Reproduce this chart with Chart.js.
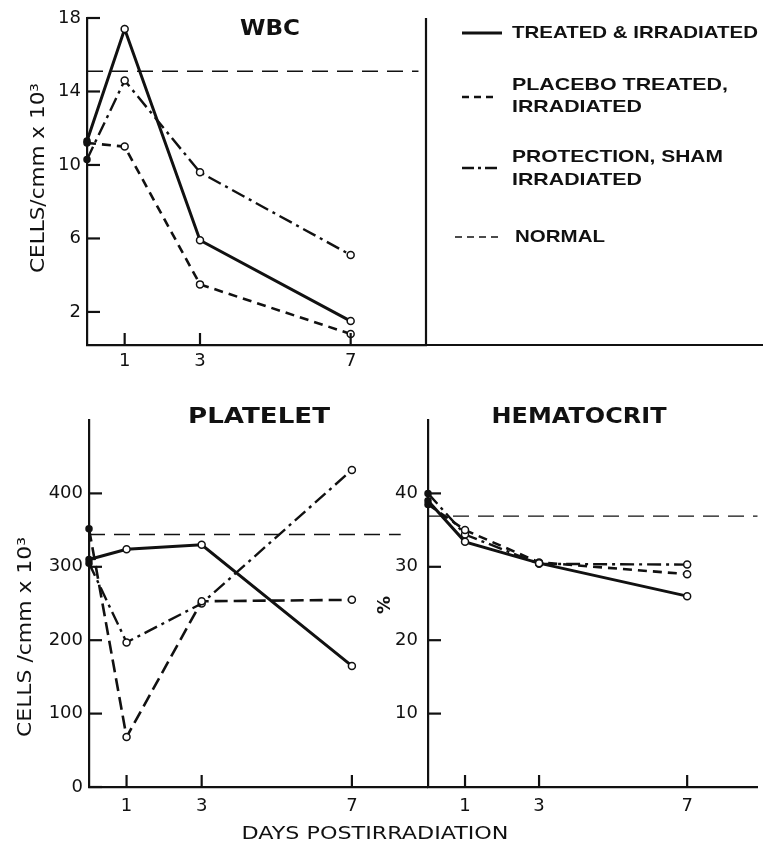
<!DOCTYPE html>
<html>
<head>
<meta charset="utf-8">
<script src="https://cdn.jsdelivr.net/npm/chart.js@4.4.0/dist/chart.umd.min.js"></script>
<style>
  html, body { margin: 0; padding: 0; background: #fff; }
  #wrap { position: relative; width: 763px; height: 849px; background: #fff; overflow: hidden; }
  #wrap canvas { position: absolute; left: 0; }
</style>
</head>
<body>
<div id="wrap">
  <canvas id="wbc" width="763" height="380" style="top:0"></canvas>
  <canvas id="platelet" width="763" height="469" style="top:380px"></canvas>
  <canvas id="hematocrit" width="763" height="469" style="top:380px"></canvas>
</div>
<script>
// days after irradiation
const days = [0, 1, 3, 7];
const dayTicks = [1, 3, 7];

const legendNames = [
    ['TREATED & IRRADIATED'],
    ['PLACEBO TREATED,', 'IRRADIATED'],
    ['PROTECTION, SHAM', 'IRRADIATED'],
    ['NORMAL']
];

// WBC, cells/cmm x 10^3
const wbcTicks = [2, 6, 10, 14, 18];
const wbcTreated = [11.3, 17.4, 5.9, 1.5];
const wbcPlacebo = [11.2, 11.0, 3.5, 0.8];
const wbcProtection = [10.3, 14.6, 9.6, 5.1];
const wbcNormal = 15.1;

// platelets, cells/cmm x 10^3
const plateletTicks = [0, 100, 200, 300, 400];
const plateletTreated = [310, 324, 330, 165];
const plateletPlacebo = [352, 68, 253, 255];
const plateletProtection = [305, 197, 250, 432];
const plateletNormal = 344;

// hematocrit, %
const hctTicks = [10, 20, 30, 40];
const hctTreated = [39.0, 33.4, 30.5, 26.0];
const hctPlacebo = [38.5, 35.0, 30.6, 29.0];
const hctProtection = [40.0, 34.4, 30.4, 30.3];
const hctNormal = 36.9;

const ink = '#111';
const styles = {
    treated: { dash: [], width: 3 },
    placebo: { dash: [9, 6], width: 2.6 },
    protection: { dash: [14, 5, 3, 5], width: 2.4 },
    normal: { dash: [16, 9], width: 1.4 }
};

Chart.defaults.color = ink;
Chart.defaults.font.family = '"DejaVu Sans", sans-serif';

function series(values, style) {
    return {
        data: days.map((d, i) => ({ x: d, y: values[i] })),
        borderColor: ink,
        borderWidth: style.width,
        borderDash: style.dash,
        pointRadius: [3, 3.5, 3.5, 3.5],
        pointBackgroundColor: [ink, '#fff', '#fff', '#fff'],
        pointBorderColor: ink,
        pointBorderWidth: 1.5,
        tension: 0,
        clip: 8
    };
}

function normalLine(value, toDay) {
    return {
        data: [{ x: 0, y: value }, { x: toDay, y: value }],
        borderColor: ink,
        borderWidth: styles.normal.width,
        borderDash: styles.normal.dash,
        pointRadius: 0,
        clip: 8
    };
}

function drawText(ctx, t) {
    ctx.save();
    ctx.font = t.font;
    ctx.fillStyle = ink;
    ctx.textBaseline = 'middle';
    ctx.textAlign = t.align || 'center';
    ctx.translate(t.x, t.y);
    if (t.rotate) ctx.rotate(t.rotate);
    if (t.width) {
        const w = ctx.measureText(t.text).width;
        ctx.scale(t.width / w, 1);
    }
    ctx.fillText(t.text, 0, 0);
    ctx.restore();
}

function strokeLine(ctx, x1, y1, x2, y2, width, dash) {
    ctx.save();
    ctx.strokeStyle = ink;
    ctx.lineWidth = width;
    ctx.setLineDash(dash || []);
    ctx.beginPath();
    ctx.moveTo(x1, y1);
    ctx.lineTo(x2, y2);
    ctx.stroke();
    ctx.restore();
}

const panelDecor = {
    id: 'panelDecor',
    afterDraw(chart, args, opts) {
        const ctx = chart.ctx;
        const area = chart.chartArea;
        const xs = chart.scales.x, ys = chart.scales.y;
        // inward tick marks
        opts.yTicks.forEach(v => {
            const py = ys.getPixelForValue(v);
            strokeLine(ctx, area.left, py, area.left + 13, py, 2.2);
        });
        dayTicks.forEach(d => {
            const px = xs.getPixelForValue(d);
            strokeLine(ctx, px, area.bottom, px, area.bottom - 12, 2.2);
        });
        if (opts.extendAxis) {
            strokeLine(ctx, area.right, area.bottom, chart.width, area.bottom, 2.2);
        }
        if (opts.rightEdge) {
            strokeLine(ctx, area.right, area.top, area.right, area.bottom, 2.2);
        }
        (opts.texts || []).forEach(t => drawText(ctx, t));
        (opts.legend || []).forEach((item, i) => {
            strokeLine(ctx, item.x1, item.y, item.x2, item.y, item.lw, item.dash);
            legendNames[i].forEach((line, j) => {
                drawText(ctx, {
                    text: line, x: item.tx, y: item.ty[j], width: item.tw[j],
                    align: 'left', font: 'bold 17px "Liberation Sans", sans-serif'
                });
            });
        });
    }
};

function makeChart(id, c) {
    return new Chart(document.getElementById(id), {
        type: 'line',
        data: { datasets: c.datasets },
        plugins: [panelDecor],
        options: {
            responsive: false,
            animation: false,
            layout: { padding: c.padding },
            plugins: {
                legend: { display: false },
                tooltip: { enabled: false },
                panelDecor: c.decor
            },
            scales: {
                x: {
                    type: 'linear',
                    min: 0,
                    max: c.xMax,
                    afterBuildTicks: s => { s.ticks = dayTicks.map(v => ({ value: v })); },
                    afterFit: s => { s.height = c.xHeight; },
                    grid: { display: false, drawTicks: false },
                    border: { display: true, color: ink, width: 2.2 },
                    ticks: { padding: c.xPad, font: { size: 18 }, maxRotation: 0 }
                },
                y: {
                    min: c.yMin,
                    max: c.yMax,
                    afterBuildTicks: s => { s.ticks = c.yTicks.map(v => ({ value: v })); },
                    afterFit: s => { s.width = c.yWidth; },
                    grid: { display: false, drawTicks: false },
                    border: { display: true, color: ink, width: 2.2 },
                    ticks: { padding: c.yPad, font: { size: 18 } }
                }
            }
        }
    });
}

makeChart('wbc', {
    datasets: [
        series(wbcTreated, styles.treated),
        series(wbcPlacebo, styles.placebo),
        series(wbcProtection, styles.protection),
        normalLine(wbcNormal, 8.8)
    ],
    padding: { left: 0, right: 337, top: 18, bottom: 0 },
    xMax: 9, xHeight: 35, xPad: 6,
    yMin: 0.2, yMax: 18, yTicks: wbcTicks, yWidth: 87, yPad: 6,
    decor: {
        yTicks: wbcTicks,
        extendAxis: true,
        rightEdge: true,
        texts: [
            { text: 'WBC', x: 270, y: 30, width: 60, font: 'bold 21px "DejaVu Sans", sans-serif' },
            { text: 'CELLS/cmm x 10³', x: 39, y: 178, width: 190, rotate: -Math.PI / 2, font: '19px "DejaVu Sans", sans-serif' }
        ],
        legend: [
            { x1: 462, x2: 502, y: 33, lw: 2.8, dash: [], tx: 512, ty: [33], tw: [246] },
            { x1: 462, x2: 498, y: 97, lw: 2.4, dash: [7, 5], tx: 512, ty: [85, 107], tw: [216, 130] },
            { x1: 462, x2: 498, y: 168, lw: 2.4, dash: [12, 4, 3, 4], tx: 512, ty: [157, 180], tw: [211, 130] },
            { x1: 455, x2: 500, y: 237, lw: 1.7, dash: [7, 5], tx: 515, ty: [237], tw: [90] }
        ]
    }
});

makeChart('platelet', {
    datasets: [
        series(plateletTreated, styles.treated),
        series(plateletPlacebo, { dash: [13, 6], width: 2.6 }),
        series(plateletProtection, styles.protection),
        normalLine(plateletNormal, 8.3)
    ],
    padding: { left: 0, right: 336, top: 40, bottom: 0 },
    xMax: 9, xHeight: 62, xPad: 9,
    yMin: 0, yMax: 500, yTicks: plateletTicks, yWidth: 89, yPad: 6,
    decor: {
        yTicks: plateletTicks,
        texts: [
            { text: 'PLATELET', x: 259, y: 38, width: 142, font: 'bold 21px "DejaVu Sans", sans-serif' },
            { text: 'CELLS /cmm x 10³', x: 26, y: 257, width: 200, rotate: -Math.PI / 2, font: '19px "DejaVu Sans", sans-serif' },
            { text: 'DAYS POSTIRRADIATION', x: 375, y: 454, width: 267, font: '18px "DejaVu Sans", sans-serif' }
        ]
    }
});

makeChart('hematocrit', {
    datasets: [
        series(hctTreated, styles.treated),
        series(hctPlacebo, styles.placebo),
        series(hctProtection, styles.protection),
        normalLine(hctNormal, 8.9)
    ],
    padding: { left: 340, right: 0, top: 40, bottom: 0 },
    xMax: 8.9, xHeight: 62, xPad: 9,
    yMin: 0, yMax: 50, yTicks: hctTicks, yWidth: 88, yPad: 10,
    decor: {
        yTicks: hctTicks,
        texts: [
            { text: 'HEMATOCRIT', x: 579, y: 38, width: 175, font: 'bold 21px "DejaVu Sans", sans-serif' },
            { text: '%', x: 385, y: 225, rotate: -Math.PI / 2, font: 'bold 18px "DejaVu Sans", sans-serif' }
        ]
    }
});
</script>
</body>
</html>
